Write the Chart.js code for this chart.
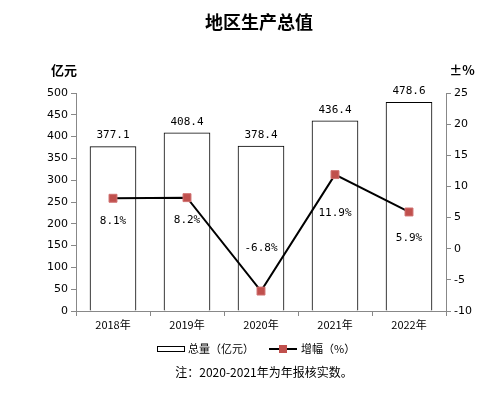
<!DOCTYPE html>
<html><head><meta charset="utf-8">
<script src="https://cdn.jsdelivr.net/npm/chart.js@4/dist/chart.umd.min.js"></script>
<style>html,body{margin:0;padding:0;background:#fff;}#wrap{width:500px;height:395px;position:relative;}</style>
</head><body><div id="wrap"><canvas id="c" width="500" height="395"></canvas></div>
<script>
const categories = ['2018年','2019年','2020年','2021年','2022年'];
const totalValues = [377.1, 408.4, 378.4, 436.4, 478.6];
const growthValues = [8.1, 8.2, -6.8, 11.9, 5.9];
const leftTicks = [0,50,100,150,200,250,300,350,400,450,500];
const rightTicks = [-10,-5,0,5,10,15,20,25];

const growthLabelOffsets = [23, 23, -43, 39, 26];
const CJK = '"Noto Sans CJK SC", "DejaVu Sans", sans-serif';
const MONO = '"DejaVu Sans Mono", "Liberation Mono", monospace';

const overlay = {
  id: 'overlay',
  afterDraw(chart) {
    const ctx = chart.ctx;
    const xs = chart.scales.x, ys = chart.scales.y, y1 = chart.scales.y1;
    ctx.save();
    ctx.fillStyle = '#000';
    ctx.textAlign = 'center'; ctx.textBaseline = 'middle';
    ctx.font = 'bold 18px ' + CJK;
    ctx.fillText('地区生产总值', 259, 22);
    ctx.font = 'bold 13px ' + CJK;
    ctx.fillText('亿元', 64, 70);
    ctx.fillText('±%', 462, 70);
    ctx.font = '11px ' + MONO;
    totalValues.forEach((v, i) => {
      ctx.fillText(v.toFixed(1), xs.getPixelForValue(i), ys.getPixelForValue(v) - 11);
    });
    growthValues.forEach((v, i) => {
      ctx.fillText(v.toFixed(1) + '%', xs.getPixelForValue(i), y1.getPixelForValue(v) + growthLabelOffsets[i]);
    });
    // legend
    ctx.strokeStyle = '#000'; ctx.lineWidth = 1;
    ctx.fillStyle = '#fff';
    ctx.fillRect(157.5, 346.5, 27, 5); ctx.strokeRect(157.5, 346.5, 27, 5);
    ctx.fillStyle = '#000';
    ctx.font = '11px ' + CJK; ctx.textAlign = 'left';
    ctx.fillText('总量（亿元）', 188, 349);
    ctx.lineWidth = 2;
    ctx.beginPath(); ctx.moveTo(269, 349); ctx.lineTo(297, 349); ctx.stroke();
    ctx.fillStyle = '#c0504d';
    ctx.fillRect(279, 345, 8, 8);
    ctx.fillStyle = '#000';
    ctx.fillText('增幅（%）', 301, 349);
    ctx.font = '12px ' + CJK; ctx.textAlign = 'center';
    ctx.fillText('注：2020-2021年为年报核实数。', 264, 372);
    ctx.restore();
  }
};

new Chart(document.getElementById('c'), {
  data: {
    labels: categories,
    datasets: [
      { type: 'line', label: '增幅（%）', data: growthValues, yAxisID: 'y1', borderColor: '#000', borderWidth: 2,
        pointStyle: 'rect', pointRadius: 5.6, pointBackgroundColor: '#c0504d', pointBorderColor: '#d07070', pointBorderWidth: 1,
        tension: 0, order: 0 },
      { type: 'bar', label: '总量（亿元）', data: totalValues, yAxisID: 'y', backgroundColor: '#fff', borderColor: '#000',
        borderWidth: 1, barThickness: 46, order: 1 }
    ]
  },
  options: {
    responsive: false, animation: false, devicePixelRatio: 1,
    layout: { padding: { top: 93, left: 0, right: 0, bottom: 0 } },
    plugins: { legend: { display: false }, tooltip: { enabled: false }, title: { display: false } },
    scales: {
      x: {
        offset: true,
        grid: { display: true, offset: true, drawOnChartArea: false, tickLength: 5, color: '#888' },
        border: { color: '#888' },
        ticks: { color: '#000', font: { size: 11, family: CJK }, padding: 2 },
        afterFit(s) { s.height = 84; }
      },
      y: {
        position: 'left', min: 0, max: 500,
        afterBuildTicks(s) { s.ticks = leftTicks.map(v => ({ value: v })); },
        grid: { drawOnChartArea: false, tickLength: 5, color: '#888' },
        border: { color: '#888' },
        ticks: { color: '#000', font: { size: 11, family: '"DejaVu Sans", sans-serif' }, padding: 3 },
        afterFit(s) { s.width = 76; }
      },
      y1: {
        position: 'right', min: -10, max: 25,
        afterBuildTicks(s) { s.ticks = rightTicks.map(v => ({ value: v })); },
        grid: { drawOnChartArea: false, tickLength: 5, color: '#888' },
        border: { color: '#888' },
        ticks: { color: '#000', font: { size: 11, family: '"DejaVu Sans", sans-serif' }, padding: 3 },
        afterFit(s) { s.width = 54; }
      }
    }
  },
  plugins: [overlay]
});
</script></body></html>
